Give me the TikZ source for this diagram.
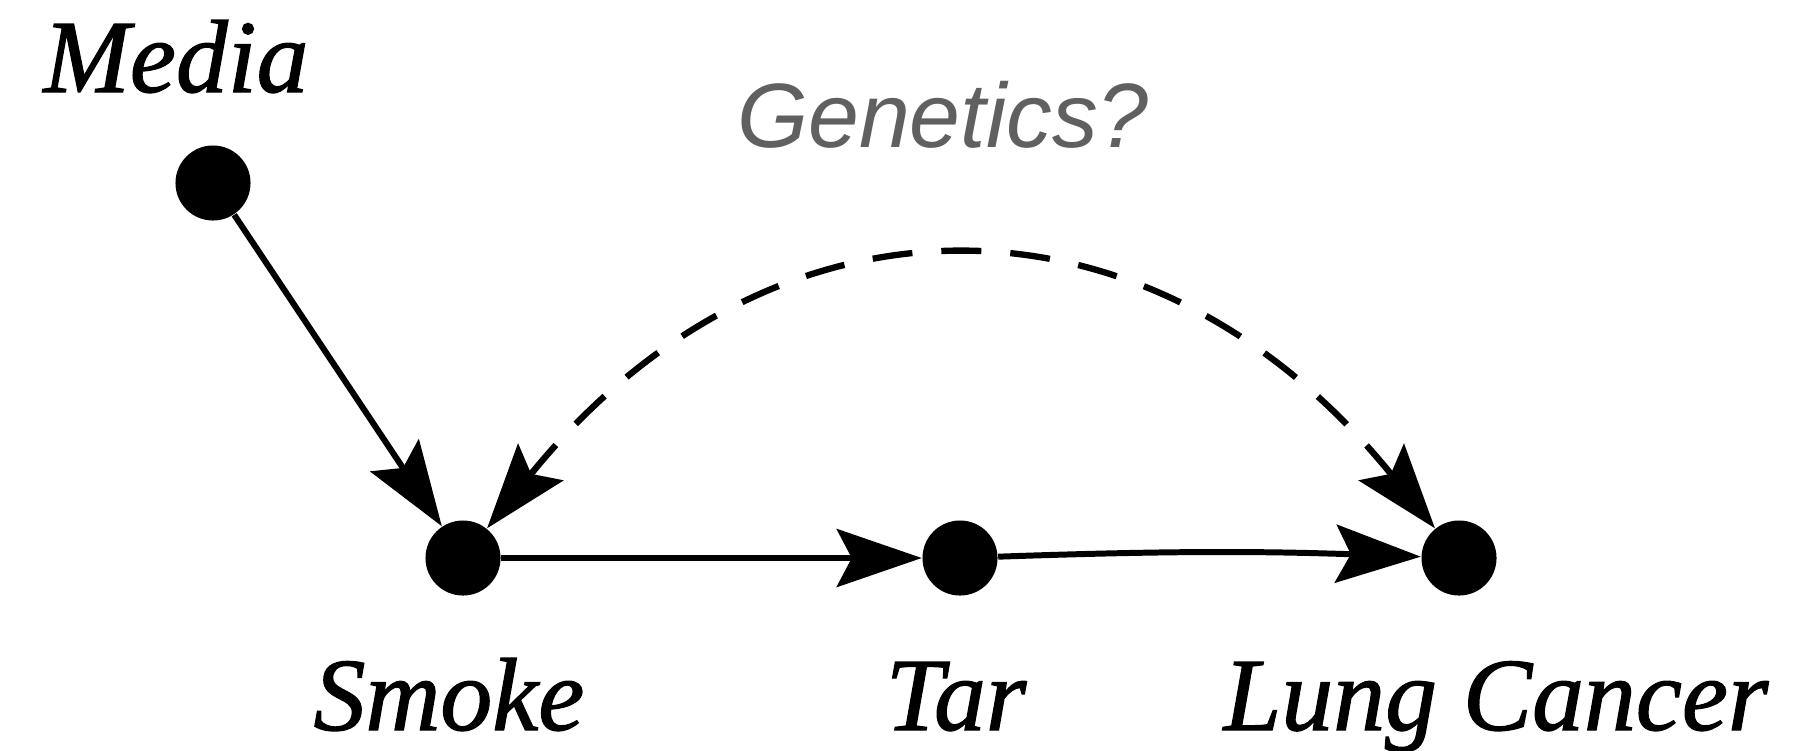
\documentclass[tikz,border=0pt]{standalone}
\usepackage{fontspec}
\setmainfont{Liberation Serif}
\newfontfamily\lblfont[FakeBold=1.2]{Liberation Serif}
\newfontfamily\genfont{Liberation Sans}
\usetikzlibrary{arrows.meta}
\definecolor{gengray}{RGB}{96,96,96}
\begin{document}
\begin{tikzpicture}[x=0.01cm,y=0.01cm,
  dot/.style={circle,fill=black,inner sep=0pt,minimum size=0.75cm},
  lbl/.style={anchor=base,inner sep=0pt,font=\lblfont\fontsize{29.5}{32}\selectfont\itshape},
  edge/.style={line width=1.7pt,-{Stealth[length=0.85cm,width=0.58cm,inset=0.15cm]}},
  conf/.style={line width=1.8pt,dash pattern=on 0.4cm off 0.29cm,
    {Stealth[length=0.85cm,width=0.58cm,inset=0.15cm]}-{Stealth[length=0.85cm,width=0.58cm,inset=0.15cm]}}]
\useasboundingbox (0,0) rectangle (1819,750);
\node[dot] (media) at (213,567) {};
\node[dot] (smoke) at (463,192) {};
\node[dot] (tar) at (960,192) {};
\node[dot] (lung) at (1459,192) {};
\node[lbl] (medialbl) at (176,658) {Media};
\node[lbl] (smokelbl) at (449,20) {Smoke};
\node[lbl] (tarlbl) at (956,20) {Tar};
\node[lbl] (lunglbl) at (1496,20) {Lung Cancer};
\node[anchor=base,inner sep=0pt,text=gengray,font=\genfont\fontsize{26}{28}\selectfont\itshape] (gen) at (943,603) {Genetics?};
\draw[edge] (media) -- (smoke);
\draw[edge] (smoke) -- (tar);
\draw[edge] (tar) to[bend left=2] (lung);
\draw[conf] (smoke) .. controls +(51:492) and +(129:492) .. (lung);
\end{tikzpicture}
\end{document}
